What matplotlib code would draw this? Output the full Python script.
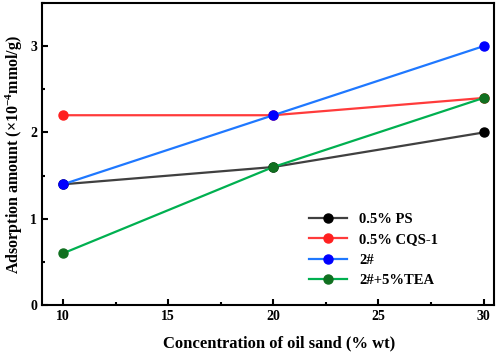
import numpy as np
import matplotlib.pyplot as plt
from matplotlib.ticker import MultipleLocator

# donnees
conc = [10, 20, 30]
ps = [1.4, 1.6, 2.0]
cqs = [2.2, 2.2, 2.4]
n2 = [1.4, 2.2, 3.0]
tea = [0.6, 1.6, 2.4]

labels = ["0.5% PS", "0.5% CQS-1", "2#", "2#+5%TEA"]
line_colors = ["#404040", "#ff3b3b", "#1f78ff", "#00b050"]
mark_colors = ["#000000", "#ff2020", "#0000ff", "#107020"]

plt.rcParams['font.family'] = ['Liberation Serif', 'DejaVu Serif']
plt.rcParams['font.weight'] = 'bold'
plt.rcParams['mathtext.fontset'] = 'custom'
plt.rcParams['mathtext.rm'] = 'Liberation Serif:bold'
plt.rcParams['mathtext.bf'] = 'Liberation Serif:bold'
plt.rcParams['mathtext.it'] = 'Liberation Serif:bold'

fig = plt.figure(figsize=(4.98, 3.54), dpi=100)
ax = fig.add_axes([0.0843, 0.138, 0.9077, 0.8535])

for y, lab, lc, mc in zip([ps, cqs, n2, tea], labels, line_colors, mark_colors):
    ax.plot(conc, y, "-o", color=lc, lw=1.6, ms=6.5, mfc=mc, mec=mc, label=lab)

ax.set_xlim(9, 30.5)
ax.set_ylim(0, 3.5)
ax.xaxis.set_major_locator(MultipleLocator(5))
ax.xaxis.set_minor_locator(MultipleLocator(2.5))
ax.yaxis.set_major_locator(MultipleLocator(1))
ax.yaxis.set_minor_locator(MultipleLocator(0.5))
ax.tick_params(which='both', direction='in', width=1.5, labelsize=10)
ax.tick_params(which='major', length=4)
ax.tick_params(which='minor', length=2.5)
for s in ax.spines.values():
    s.set_linewidth(1.5)

ax.set_xlabel("Concentration of oil sand (% wt)", fontsize=12, fontweight='bold', labelpad=10)
ax.xaxis.set_label_coords(0.525, -0.1)
ax.set_ylabel("Adsorption amount ($\\mathbf{\\times10^{-4}}$mmol/g)", fontsize=11.5, fontweight='bold')

ax.legend(loc='lower right', bbox_to_anchor=(0.905, 0.015), frameon=False, fontsize=10.5,
          handlelength=2.6, labelspacing=0.5)

plt.savefig("out.png", dpi=100)
